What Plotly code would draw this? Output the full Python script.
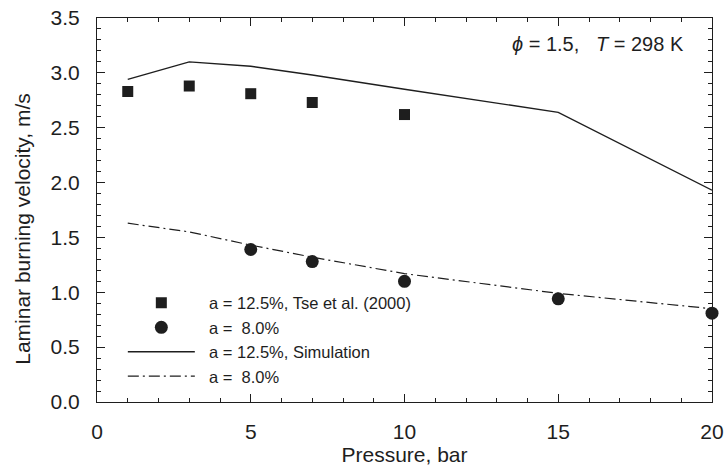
import plotly.graph_objects as go

# Data
p_exp_125 = [1, 3, 5, 7, 10]
s_exp_125 = [2.83, 2.88, 2.81, 2.73, 2.62]

p_exp_80 = [5, 7, 10, 15, 20]
s_exp_80 = [1.39, 1.28, 1.10, 0.94, 0.81]

p_sim_125 = [1, 3, 5, 7, 10, 15, 20]
s_sim_125 = [2.94, 3.10, 3.06, 2.98, 2.85, 2.64, 1.93]

p_sim_80 = [1, 3, 5, 7, 10, 15, 20]
s_sim_80 = [1.63, 1.55, 1.43, 1.32, 1.17, 0.99, 0.85]

x_ticks = [0, 5, 10, 15, 20]
y_ticks = [0.0, 0.5, 1.0, 1.5, 2.0, 2.5, 3.0, 3.5]

legend_names = ["a = 12.5%, Tse et al. (2000)", "a =\u00a0\u00a08.0%",
                "a = 12.5%, Simulation", "a =\u00a0\u00a08.0%"]

ink = "#1e1e1e"
font = "Liberation Sans, Arial, sans-serif"
pad = "\u00a0\u00a0"

fig = go.Figure()
fig.add_trace(go.Scatter(x=p_exp_125, y=s_exp_125, mode="markers",
                         marker=dict(symbol="square", size=11, color=ink),
                         name=pad + legend_names[0], cliponaxis=False))
fig.add_trace(go.Scatter(x=p_exp_80, y=s_exp_80, mode="markers",
                         marker=dict(symbol="circle", size=13, color=ink),
                         name=pad + legend_names[1], cliponaxis=False))
fig.add_trace(go.Scatter(x=p_sim_125, y=s_sim_125, mode="lines",
                         line=dict(color=ink, width=1.4),
                         name=pad + legend_names[2]))
fig.add_trace(go.Scatter(x=p_sim_80, y=s_sim_80, mode="lines",
                         line=dict(color=ink, width=1.2, dash="11px,4px,2px,4px"),
                         name=pad + legend_names[3]))

fig.add_annotation(x=0.958, y=0.965, xref="paper", yref="paper",
                   xanchor="right", yanchor="top", showarrow=False,
                   text="<i>ϕ</i> = 1.5,   <i>T</i> = 298 K",
                   font=dict(family=font, size=20, color=ink))

# y-axis title as annotation (placed slightly below plot centre as in reference)
fig.add_annotation(x=-0.121, y=0.45, xref="paper", yref="paper",
                   xanchor="center", yanchor="middle", showarrow=False,
                   textangle=-90, text="Laminar burning velocity, m/s",
                   font=dict(family=font, size=21, color=ink))

axis_common = dict(showline=True, linecolor=ink, linewidth=1.2, mirror="ticks",
                   ticks="inside", ticklen=8, tickwidth=1.2, tickcolor=ink,
                   showgrid=False, zeroline=False, automargin=False,
                   tickfont=dict(family=font, size=21, color=ink),
                   title_font=dict(family=font, size=21, color=ink))

fig.update_xaxes(range=[0, 20], tickvals=x_ticks, ticktext=[str(v) for v in x_ticks],
                 minor=dict(ticks="inside", dtick=1, ticklen=4, tickwidth=1, tickcolor=ink),
                 title_text="Pressure, bar", title_standoff=2, ticklabelstandoff=11,
                 **axis_common)
fig.update_yaxes(range=[0, 3.5], tickvals=y_ticks, ticktext=[f"{v:.1f}" for v in y_ticks],
                 minor=dict(ticks="inside", dtick=0.1, ticklen=4, tickwidth=1, tickcolor=ink),
                 ticklabelstandoff=12,
                 **axis_common)

fig.update_layout(
    width=724, height=468,
    margin=dict(l=97, r=12, t=18, b=66),
    paper_bgcolor="white", plot_bgcolor="white",
    font=dict(family=font, color=ink),
    legend=dict(x=0.042, y=0.303, xanchor="left", yanchor="top",
                font=dict(family=font, size=16.5, color=ink),
                bgcolor="rgba(0,0,0,0)", itemwidth=67, tracegroupgap=0,
                traceorder="normal"),
    showlegend=True,
)

fig.write_html("out.html")
